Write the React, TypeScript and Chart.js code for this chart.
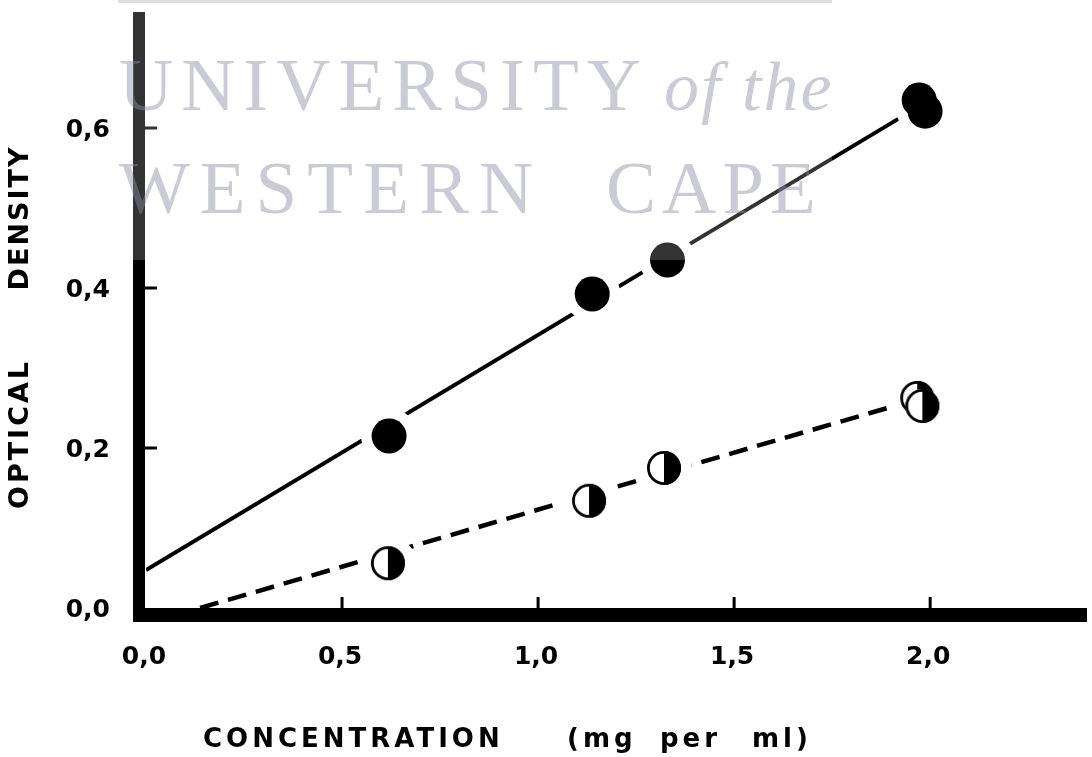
import React, { useEffect, useRef } from 'react';
import { Chart, registerables } from 'chart.js';

Chart.register(...registerables);

// ---- data ----
const xTickValues = [0, 0.5, 1.0, 1.5, 2.0];
const xTickLabels = ['0,0', '0,5', '1,0', '1,5', '2,0'];
const yTickValues = [0, 0.2, 0.4, 0.6];
const yTickLabels = ['0,0', '0,2', '0,4', '0,6'];

const filledX = [0.62, 1.138, 1.33, 1.972, 1.987];
const filledY = [0.215, 0.3925, 0.435, 0.635, 0.621];
const halfX = [0.617, 1.13, 1.321, 1.967, 1.98];
const halfY = [0.056, 0.134, 0.175, 0.2625, 0.2525];

const solidLineX = [0, 1.975];
const solidLineY = [0.0475, 0.628];
const dashedLineX = [0.138, 1.975];
const dashedLineY = [0, 0.262];

const xMin = 0;
const xMax = 2.4;
const yMin = 0;
const yMax = 0.745;

const xTitleParts = ['CONCENTRATION', '(mg', 'per', 'ml)'];
const yTitleParts = ['OPTICAL', 'DENSITY'];

const toPoints = (xs: number[], ys: number[]) => xs.map((v, i) => ({ x: v, y: ys[i] }));

function makeHalfMarker(r: number): HTMLCanvasElement {
  const size = Math.ceil(r * 2 + 6);
  const c = document.createElement('canvas');
  c.width = size;
  c.height = size;
  const g = c.getContext('2d')!;
  const cx = size / 2;
  const cy = size / 2;
  g.fillStyle = '#fff';
  g.beginPath();
  g.arc(cx, cy, r, 0, Math.PI * 2);
  g.fill();
  g.fillStyle = '#000';
  g.beginPath();
  g.arc(cx, cy, r, -Math.PI / 2, Math.PI / 2);
  g.closePath();
  g.fill();
  g.strokeStyle = '#000';
  g.lineWidth = 2.8;
  g.beginPath();
  g.arc(cx, cy, r - 1.4, 0, Math.PI * 2);
  g.stroke();
  return c;
}

const FONT = '"DejaVu Sans", Verdana, sans-serif';

const decorPlugin = {
  id: 'decor',
  afterDraw(chart: any) {
    const { ctx } = chart;
    const xs = chart.scales.x;
    const ys = chart.scales.y;
    const px = (v: number) => xs.getPixelForValue(v);
    const py = (v: number) => ys.getPixelForValue(v);
    const x0 = px(xMin);
    const xr = px(xMax);
    const yb = py(yMin);
    const yt = py(yMax);

    ctx.save();
    ctx.fillStyle = '#000';
    // axes (thick bars)
    ctx.fillRect(x0 - 13, yt, 12, yb + 14 - yt);
    ctx.fillRect(x0 - 13, yb, xr - (x0 - 13), 14);
    // inward ticks
    yTickValues.forEach((v) => {
      if (v > yMin) ctx.fillRect(x0 - 1, py(v) - 1.5, 12, 3);
    });
    xTickValues.forEach((v) => {
      if (v > xMin) ctx.fillRect(px(v) - 1.5, yb - 11, 3, 11);
    });

    // tick labels
    ctx.font = `bold 25px ${FONT}`;
    (ctx as any).letterSpacing = '0px';
    ctx.textBaseline = 'alphabetic';
    ctx.textAlign = 'right';
    yTickValues.forEach((v, i) => {
      ctx.fillText(yTickLabels[i], 110, py(v) + 9);
    });
    ctx.textAlign = 'center';
    xTickValues.forEach((v, i) => {
      ctx.fillText(xTickLabels[i], px(v) - 2, yb + 56);
    });

    // x title
    ctx.font = `bold 26px ${FONT}`;
    (ctx as any).letterSpacing = '4px';
    ctx.textAlign = 'left';
    const xTitleX = [203, 567, 660, 752];
    xTitleParts.forEach((t, i) => ctx.fillText(t, xTitleX[i], 747));

    // y title (rotated)
    ctx.save();
    ctx.translate(21, 0);
    ctx.rotate(-Math.PI / 2);
    ctx.font = `bold 27px ${FONT}`;
    ctx.textAlign = 'center';
    ctx.textBaseline = 'middle';
    const yTitleCenters = [434, 218];
    const yTitleSpacing = ['3px', '2px'];
    yTitleParts.forEach((t, i) => {
      (ctx as any).letterSpacing = yTitleSpacing[i];
      ctx.fillText(t, -yTitleCenters[i], 0);
    });
    ctx.restore();

    // watermark panel
    ctx.fillStyle = 'rgba(255,255,255,0.2)';
    ctx.fillRect(118, 0, 714, 260);
    ctx.fillStyle = '#dcdcdc';
    ctx.fillRect(118, 0, 714, 3);
    ctx.fillStyle = 'rgba(140,140,165,0.45)';
    ctx.textAlign = 'left';
    ctx.textBaseline = 'alphabetic';
    ctx.font = `75px "Liberation Serif", "Times New Roman", serif`;
    (ctx as any).letterSpacing = '8px';
    ctx.fillText('UNIVERSITY', 119, 110);
    (ctx as any).letterSpacing = '10px';
    ctx.fillText('WESTERN', 119, 213);
    (ctx as any).letterSpacing = '6px';
    ctx.fillText('CAPE', 606, 213);
    ctx.font = `italic 70px "Liberation Serif", "Times New Roman", serif`;
    (ctx as any).letterSpacing = '2px';
    ctx.fillText('of the', 664, 110);
    ctx.restore();
  },
};

export default function App() {
  const ref = useRef<HTMLCanvasElement | null>(null);

  useEffect(() => {
    document.body.style.margin = '0';
    const canvas = ref.current;
    if (!canvas) return;
    const halfImg = makeHalfMarker(17);
    const allPoints = [...toPoints(filledX, filledY), ...toPoints(halfX, halfY)];

    const chart = new Chart(canvas, {
      type: 'scatter',
      data: {
        datasets: [
          {
            label: 'filled',
            data: toPoints(filledX, filledY),
            pointStyle: 'circle',
            pointRadius: 17.5,
            pointBackgroundColor: '#000',
            pointBorderWidth: 0,
            order: 0,
          },
          {
            label: 'half',
            data: toPoints(halfX, halfY),
            pointStyle: halfImg as any,
            pointRadius: 17,
            order: 0,
          },
          {
            label: 'halo',
            data: allPoints,
            pointStyle: 'circle',
            pointRadius: 28,
            pointBackgroundColor: '#fff',
            pointBorderWidth: 0,
            order: 1,
          },
          {
            label: 'solid fit',
            data: toPoints(solidLineX, solidLineY),
            showLine: true,
            borderColor: '#000',
            borderWidth: 4,
            pointRadius: 0,
            order: 2,
          },
          {
            label: 'dashed fit',
            data: toPoints(dashedLineX, dashedLineY),
            showLine: true,
            borderColor: '#000',
            borderWidth: 4.5,
            borderDash: [19, 10],
            pointRadius: 0,
            order: 2,
          },
        ] as any,
      },
      options: {
        responsive: false,
        animation: false,
        devicePixelRatio: 1,
        events: [],
        layout: { autoPadding: false, padding: { left: 146, right: 5, top: 12, bottom: 149 } },
        plugins: {
          legend: { display: false },
          tooltip: { enabled: false },
        },
        scales: {
          x: { type: 'linear', min: xMin, max: xMax, display: false },
          y: { type: 'linear', min: yMin, max: yMax, display: false },
        },
      },
      plugins: [decorPlugin],
    });
    return () => chart.destroy();
  }, []);

  return (
    <canvas
      ref={ref}
      width={1092}
      height={757}
      style={{ display: 'block', width: 1092, height: 757, background: '#fff' }}
    />
  );
}
